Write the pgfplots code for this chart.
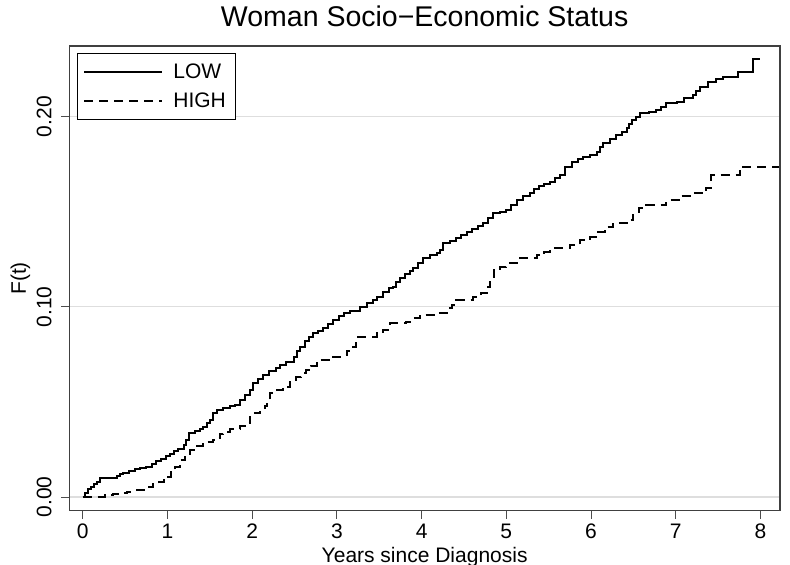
\documentclass[border=0pt]{standalone}
\usepackage{fontspec}
\setmainfont{Liberation Sans}
\usepackage{pgfplots}
\usepackage{pgfplotstable}
\pgfplotsset{compat=1.18}
\pgfplotstableread{
t F
0 0
0.03 0.002
0.06 0.004
0.10 0.005
0.13 0.007
0.17 0.008
0.21 0.0098
0.40 0.011
0.44 0.012
0.48 0.0128
0.55 0.0135
0.62 0.0145
0.68 0.0151
0.75 0.016
0.82 0.0175
0.87 0.019
0.93 0.020
0.98 0.0215
1.03 0.0226
1.08 0.024
1.13 0.0255
1.19 0.0273
1.22 0.030
1.25 0.0335
1.32 0.0345
1.38 0.036
1.42 0.037
1.47 0.039
1.50 0.0405
1.54 0.044
1.58 0.0455
1.66 0.047
1.74 0.0478
1.80 0.0484
1.86 0.051
1.92 0.0536
1.97 0.0563
2.01 0.0598
2.07 0.062
2.13 0.0641
2.20 0.066
2.28 0.068
2.33 0.0694
2.40 0.071
2.49 0.0738
2.53 0.077
2.56 0.079
2.62 0.082
2.67 0.084
2.72 0.086
2.78 0.0875
2.84 0.0887
2.90 0.091
2.96 0.093
3.02 0.095
3.08 0.0966
3.15 0.098
3.27 0.1001
3.35 0.102
3.43 0.1036
3.47 0.1053
3.55 0.108
3.62 0.110
3.66 0.1106
3.70 0.113
3.74 0.115
3.80 0.117
3.86 0.1190
3.90 0.1202
3.96 0.123
4.02 0.1255
4.10 0.127
4.18 0.1281
4.22 0.130
4.25 0.1334
4.33 0.1345
4.41 0.136
4.47 0.138
4.53 0.1395
4.60 0.141
4.67 0.1425
4.73 0.1442
4.78 0.1465
4.84 0.1492
4.92 0.150
5.00 0.151
5.06 0.1535
5.12 0.156
5.20 0.158
5.28 0.1597
5.33 0.162
5.38 0.1635
5.45 0.1645
5.51 0.1658
5.57 0.1675
5.63 0.1693
5.69 0.1737
5.78 0.176
5.85 0.1775
5.91 0.1786
5.99 0.180
6.07 0.1816
6.11 0.184
6.14 0.186
6.22 0.188
6.30 0.1903
6.36 0.192
6.42 0.1938
6.45 0.196
6.48 0.1982
6.53 0.200
6.58 0.2017
6.68 0.2025
6.77 0.2035
6.83 0.205
6.89 0.207
7.01 0.2078
7.10 0.2095
7.20 0.2114
7.24 0.2135
7.28 0.2157
7.38 0.2183
7.47 0.2195
7.56 0.221
7.74 0.2236
7.91 0.2303
7.99 0.2303
}\lowtable
\pgfplotstableread{
t F
0 0
0.24 0.0
0.26 0.001
0.36 0.0015
0.44 0.002
0.52 0.0028
0.64 0.0037
0.72 0.005
0.83 0.0068
0.90 0.008
0.96 0.0095
0.99 0.0107
1.04 0.013
1.09 0.016
1.15 0.0195
1.21 0.022
1.27 0.0247
1.34 0.027
1.42 0.029
1.54 0.030
1.58 0.031
1.62 0.033
1.66 0.0343
1.74 0.0356
1.86 0.0373
1.94 0.039
1.97 0.0422
2.02 0.044
2.09 0.0449
2.15 0.048
2.18 0.051
2.21 0.0545
2.29 0.0563
2.36 0.058
2.45 0.0606
2.52 0.0632
2.58 0.065
2.64 0.0668
2.70 0.069
2.76 0.072
2.92 0.0738
3.07 0.0747
3.12 0.077
3.19 0.079
3.23 0.0843
3.47 0.086
3.55 0.088
3.63 0.0913
3.82 0.0922
3.90 0.094
3.98 0.0957
4.18 0.0966
4.30 0.0992
4.36 0.101
4.41 0.1036
4.61 0.105
4.70 0.107
4.77 0.1106
4.81 0.115
4.85 0.1193
4.93 0.121
5.00 0.1229
5.16 0.1255
5.36 0.1272
5.45 0.129
5.51 0.1308
5.75 0.1325
5.87 0.1351
5.99 0.1369
6.06 0.1395
6.16 0.142
6.26 0.1439
6.42 0.1456
6.50 0.149
6.56 0.1518
6.65 0.1535
6.89 0.1562
7.05 0.1583
7.20 0.1597
7.36 0.1623
7.42 0.1693
7.76 0.1737
8.22 0.1737
}\hightable
\begin{document}
\begin{tikzpicture}
\begin{axis}[
  scale only axis, width=710.7pt, height=464.7pt,
  xmin=-0.158, xmax=8.23, ymin=-0.0072, ymax=0.2371,
  xtick={0,1,2,3,4,5,6,7,8}, ytick={0,0.1,0.2},
  tick pos=left,
  /pgf/number format/assume math mode=true,
  scaled y ticks=false,
  yticklabel style={/pgf/number format/fixed, /pgf/number format/fixed zerofill, /pgf/number format/precision=2, rotate=90, anchor=south, inner sep=0pt},
  xticklabel style={anchor=north, inner sep=0pt},
  xticklabel shift=5.3pt,
  yticklabel shift=9.6pt,
  tick align=outside, major tick length=8pt,
  tick style={black!70, line width=1pt},
  axis line style={black!75, line width=1.3pt},
  ymajorgrids, grid style={black!13, line width=1.2pt},
  font=\fontsize{21}{25}\selectfont,
  title={Woman Socio−Economic Status},
  title style={font=\fontsize{28.5}{32}\selectfont, at={(axis description cs:0.5,1)}, anchor=base, yshift=13pt},
  xlabel={Years since Diagnosis}, ylabel={F(t)},
  xlabel style={at={(axis description cs:0.5,-0.1104)}, anchor=base},
  ylabel style={at={(axis description cs:-0.0687,0.5)}, anchor=center},
  legend style={at={(rel axis cs:0,1)}, anchor=north west, xshift=7.7pt, yshift=-6.7pt, draw=black, line width=0.8pt, inner xsep=6pt, inner ysep=7.6pt, row sep=7pt, column sep=7pt, font=\fontsize{21}{25}\selectfont, nodes={inner sep=3pt}},
  legend cell align=left,
  legend image code/.code={\draw[#1] (0pt,0pt) -- (78pt,0pt);},
]
\addplot[const plot, black, line width=2pt] table[x=t, y=F] {\lowtable};
\addlegendentry{LOW}
\addplot[const plot, black, line width=2pt, dash pattern=on 9pt off 6pt] table[x=t, y=F] {\hightable};
\addlegendentry{HIGH}
\end{axis}
\pgfresetboundingbox
\path ([xshift=-69.3pt,yshift=-53.3pt]current axis.south west) rectangle ([xshift=10pt,yshift=46pt]current axis.north east);
\end{tikzpicture}
\end{document}
